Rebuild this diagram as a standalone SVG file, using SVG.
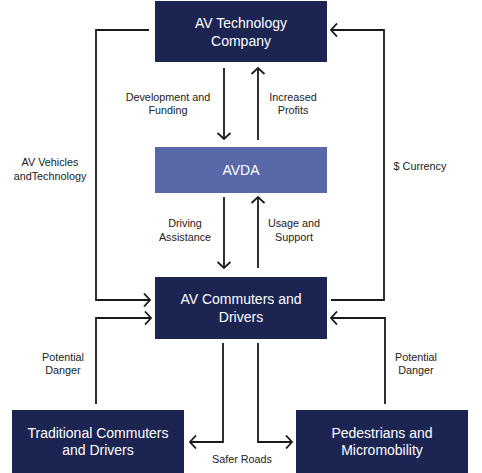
<svg xmlns="http://www.w3.org/2000/svg" width="482" height="473" viewBox="0 0 482 473">
<defs>
<style>
.node{fill:#1c2552;}
.avda{fill:#5868a8;}
.t{font-family:"Liberation Sans",Arial,sans-serif;font-size:14px;fill:#ffffff;text-anchor:middle;}
.l{font-family:"Liberation Sans",Arial,sans-serif;font-size:10.8px;fill:#222222;text-anchor:middle;}
.c{fill:none;stroke:#1a1a1a;stroke-width:1.8;marker-end:url(#ah);}
</style>
<marker id="ah" viewBox="0 0 10 14" refX="9" refY="7" markerWidth="10" markerHeight="14" markerUnits="userSpaceOnUse" orient="auto">
<path d="M3,0.5 L9,7 L3,13.5" fill="none" stroke="#1a1a1a" stroke-width="1.8"/>
</marker>
</defs>
<rect width="482" height="473" fill="#ffffff"/>
<g id="connectors">
<path class="c" d="M149,30 H96 V300 H150"/>
<path class="c" d="M331,300 H384 V30 H331"/>
<path class="c" d="M224,68 V139"/>
<path class="c" d="M258,140 V68"/>
<path class="c" d="M224,197 V268"/>
<path class="c" d="M258,268 V197"/>
<path class="c" d="M96,404 V318 H151"/>
<path class="c" d="M385,404 V318 H331"/>
<path class="c" d="M223,343 V442 H190"/>
<path class="c" d="M258,343 V442 H292"/>
</g>
<g id="labels">
<text class="l" x="168" y="101">Development and</text>
<text class="l" x="168" y="114">Funding</text>
<text class="l" x="293" y="101">Increased</text>
<text class="l" x="293" y="114">Profits</text>
<text class="l" x="50" y="166">AV Vehicles</text>
<text class="l" x="50" y="180">andTechnology</text>
<text class="l" x="420" y="170">$ Currency</text>
<text class="l" x="185" y="227">Driving</text>
<text class="l" x="185" y="241">Assistance</text>
<text class="l" x="294" y="227">Usage and</text>
<text class="l" x="294" y="241">Support</text>
<text class="l" x="63" y="361">Potential</text>
<text class="l" x="63" y="374">Danger</text>
<text class="l" x="416" y="361">Potential</text>
<text class="l" x="416" y="374">Danger</text>
<text class="l" x="242" y="463">Safer Roads</text>
</g>
<g id="av-technology-company">
<rect class="node" x="155" y="1" width="172" height="61"/>
<text class="t" x="241" y="28">AV Technology</text>
<text class="t" x="241" y="46">Company</text>
</g>
<g id="avda">
<rect class="avda" x="155" y="147" width="172" height="46"/>
<text class="t" x="241" y="175">AVDA</text>
</g>
<g id="av-commuters">
<rect class="node" x="155" y="277" width="172" height="62"/>
<text class="t" x="241" y="304">AV Commuters and</text>
<text class="t" x="241" y="322">Drivers</text>
</g>
<g id="traditional-commuters">
<rect class="node" x="12" y="410" width="172" height="63"/>
<text class="t" x="98" y="438">Traditional Commuters</text>
<text class="t" x="98" y="455">and Drivers</text>
</g>
<g id="pedestrians">
<rect class="node" x="296" y="410" width="172" height="63"/>
<text class="t" x="382" y="438">Pedestrians and</text>
<text class="t" x="382" y="455">Micromobility</text>
</g>
</svg>
